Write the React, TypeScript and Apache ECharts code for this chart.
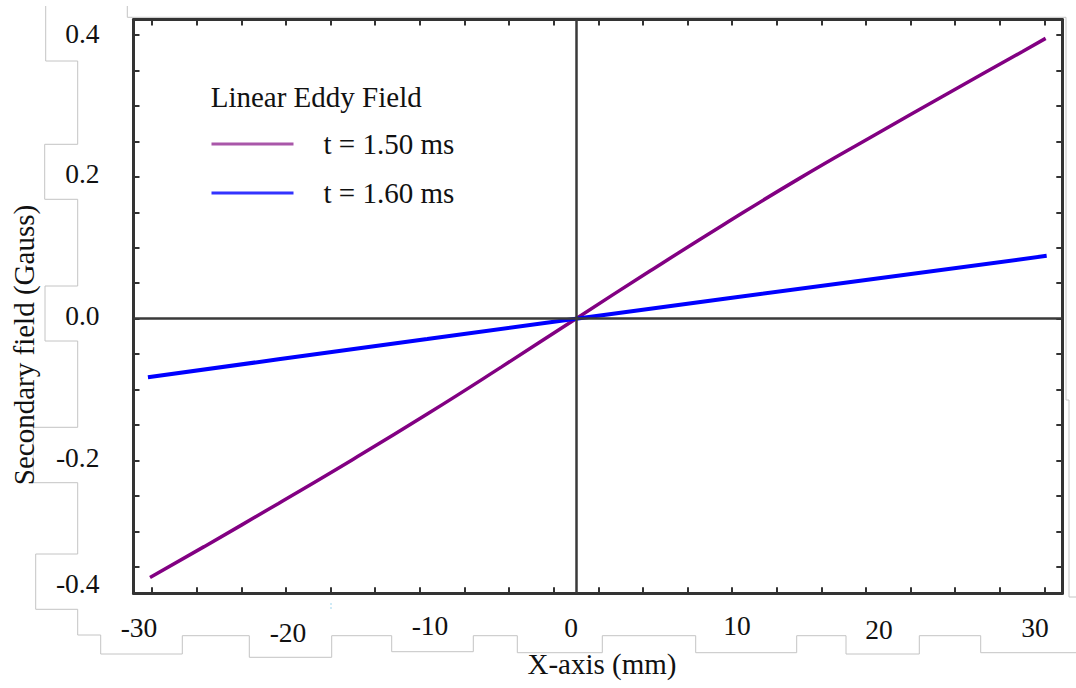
import React, { useEffect, useRef } from "react";
import * as echarts from "echarts";

// ---- data (x in mm, field in Gauss) ----
const xPurple = [-28.64, -25, -20, -15, -10, -5, 0, 5, 10, 15, 20, 25, 30, 31.58];
const field150 = [-0.3651, -0.3215, -0.2605, -0.1985, -0.1345, -0.068, 0, 0.0675, 0.1335, 0.1975, 0.258, 0.3175, 0.3765, 0.3953];
const xBlue = [-28.78, -20, -10, 0, 10, 20, 31.65];
const field160 = [-0.0825, -0.0573, -0.0287, 0, 0.028, 0.056, 0.0886];

const seriesNames = ["t = 1.50 ms", "t = 1.60 ms"];
const legendTitle = "Linear Eddy Field";
const xTitle = "X-axis (mm)";
const yTitle = "Secondary field (Gauss)";

const xTickLabels = ["-30", "-20", "-10", "0", "10", "20", "30"];
const yTickLabels = ["0.4", "0.2", "0.0", "-0.2", "-0.4"];

const xTickValues = [-28.5, -25.5, -22.5, -19.5, -16.5, -13.5, -10.5, -7.5, -4.5, -1.5, 1.5, 4.5, 7.5, 10.5, 13.5, 16.5, 19.5, 22.5, 25.5, 28.5, 31.5];
const yTickValues = [-0.35, -0.3, -0.25, -0.2, -0.15, -0.1, -0.05, 0, 0.05, 0.1, 0.15, 0.2, 0.25, 0.3, 0.35, 0.4];

const X_MIN = -29.75;
const X_MAX = 32.7;
const Y_MIN = -0.3873;
const Y_MAX = 0.4219;

// ---- layout (pixel placement of the pasted-in labels) ----
const xLabelPos = [[139, 627.5], [288, 632.2], [430, 625.5], [571, 627.2], [737, 625.5], [879, 629.8], [1035, 627.2]];
const yLabelPos = [[99.5, 33.9], [99.5, 173.2], [99.5, 315.5], [99.5, 457.2], [99.5, 583.9]];

const FONT = '"Liberation Serif", "Times New Roman", serif';
const AXIS_COLOR = "#333";

const stairLeft = [
  [45.7, 6], [45.7, 61], [77.7, 61], [77.7, 144.3], [44.7, 144.3], [44.7, 199.3], [77.7, 199.3],
  [77.7, 286], [45, 286], [45, 341], [77.7, 341], [77.7, 427.3], [33.3, 427.3], [33.3, 482.7],
  [77.7, 482.7], [77.7, 554], [35.7, 554], [35.7, 609.3], [77.7, 609.3], [77.7, 635], [100.7, 635],
  [100.7, 654], [182.3, 654], [182.3, 635.7], [249.3, 635.7], [249.3, 657.3], [331.7, 657.3],
  [331.7, 635.7], [391.7, 635.7], [391.7, 651.7], [473.3, 651.7], [473.3, 635.7], [517.3, 635.7],
  [517.3, 652.7], [602.3, 652.7], [602.3, 635.7], [695.7, 635.7], [695.7, 652.7], [796.7, 652.7],
  [796.7, 635.7], [846, 635.7], [846, 654], [919.3, 654], [919.3, 635.7], [980.7, 635.7],
  [980.7, 652.7], [1076, 652.7],
];
const stairTop = [[127.3, 6], [127.3, 17.3], [1066, 17.3], [1066, 400], [1069, 400], [1069, 597], [1076, 597]];

function pairs(xs: number[], ys: number[]) {
  return xs.map((x, i) => [x, ys[i]]);
}

function makeText(text: string, x: number, y: number, size: number, align: string, rotation = 0) {
  return {
    type: "text",
    x,
    y,
    rotation,
    silent: true,
    style: {
      text,
      fill: "#111",
      font: `${size}px ${FONT}`,
      align,
      verticalAlign: "middle",
      textAlign: align,
      textVerticalAlign: "middle",
    },
  };
}

export default function App() {
  const ref = useRef<HTMLDivElement>(null);

  useEffect(() => {
    if (!ref.current) return;
    const chart = echarts.init(ref.current, undefined, { renderer: "svg" });

    const axisCommon = {
      type: "value",
      axisLine: { show: true, onZero: false, lineStyle: { color: AXIS_COLOR, width: 3 } },
      axisLabel: { show: false },
      splitLine: { show: false },
    };
    const xAxisBase = {
      ...axisCommon,
      min: X_MIN,
      max: X_MAX,
      axisTick: { show: true, inside: true, length: 6, customValues: xTickValues, lineStyle: { color: AXIS_COLOR, width: 2 } },
    };
    const yAxisBase = {
      ...axisCommon,
      min: Y_MIN,
      max: Y_MAX,
      axisTick: { show: true, inside: true, length: 6, customValues: yTickValues, lineStyle: { color: AXIS_COLOR, width: 2 } },
    };

    const graphics: any[] = [
      { type: "polyline", silent: true, z: 0, shape: { points: stairLeft }, style: { stroke: "#c4c4c4", lineWidth: 1, fill: null } },
      { type: "polyline", silent: true, z: 0, shape: { points: stairTop }, style: { stroke: "#c4c4c4", lineWidth: 1, fill: null } },
      { type: "line", silent: true, shape: { x1: 331, y1: 603, x2: 331, y2: 611 }, style: { stroke: "#9fd6ee", lineWidth: 1, lineDash: [2, 2] } },
      makeText(legendTitle, 210.7, 97, 29, "left"),
      makeText(xTitle, 602, 664, 29, "center"),
      makeText(yTitle, 24, 345, 29, "center", Math.PI / 2),
    ];
    xTickLabels.forEach((t, i) => graphics.push(makeText(t, xLabelPos[i][0], xLabelPos[i][1], 27.5, "center")));
    yTickLabels.forEach((t, i) => graphics.push(makeText(t, yLabelPos[i][0], yLabelPos[i][1], 27.5, "right")));

    chart.setOption({
      animation: false,
      backgroundColor: "#ffffff",
      grid: { left: 133.5, right: 13.7, top: 19.5, bottom: 94.7, containLabel: false },
      xAxis: [
        { ...xAxisBase, position: "bottom" },
        { ...xAxisBase, position: "top" },
      ],
      yAxis: [
        { ...yAxisBase, position: "left" },
        { ...yAxisBase, position: "right" },
      ],
      legend: {
        orient: "vertical",
        left: 210,
        top: 125,
        padding: 0,
        itemWidth: 82,
        itemHeight: 10,
        itemGap: 11,
        data: [
          { name: seriesNames[0], itemStyle: { opacity: 0 }, lineStyle: { color: "#a957a9", width: 3 } },
          { name: seriesNames[1], itemStyle: { opacity: 0 }, lineStyle: { color: "#3333ff", width: 3 } },
        ],
        textStyle: { fontFamily: FONT, fontSize: 29, color: "#111", lineHeight: 30, padding: [0, 0, 8, 25] },
      },
      series: [
        {
          name: "axes-zero",
          type: "line",
          data: [],
          z: 1,
          silent: true,
          markLine: {
            silent: true,
            symbol: ["none", "none"],
            label: { show: false },
            lineStyle: { color: "#3a3a3a", width: 2.5, type: "solid" },
            data: [{ xAxis: 0 }, { yAxis: 0 }],
          },
        },
        {
          name: seriesNames[0],
          type: "line",
          z: 3,
          data: pairs(xPurple, field150),
          symbol: "none",
          smooth: true,
          lineStyle: { color: "#820082", width: 3.5 },
          itemStyle: { color: "#820082" },
        },
        {
          name: seriesNames[1],
          type: "line",
          z: 3,
          data: pairs(xBlue, field160),
          symbol: "none",
          lineStyle: { color: "#0000ff", width: 4 },
          itemStyle: { color: "#0000ff" },
        },
      ],
      graphic: { elements: graphics },
    });

    return () => chart.dispose();
  }, []);

  return <div ref={ref} style={{ position: "absolute", left: 0, top: 0, width: 1076, height: 688 }} />;
}
